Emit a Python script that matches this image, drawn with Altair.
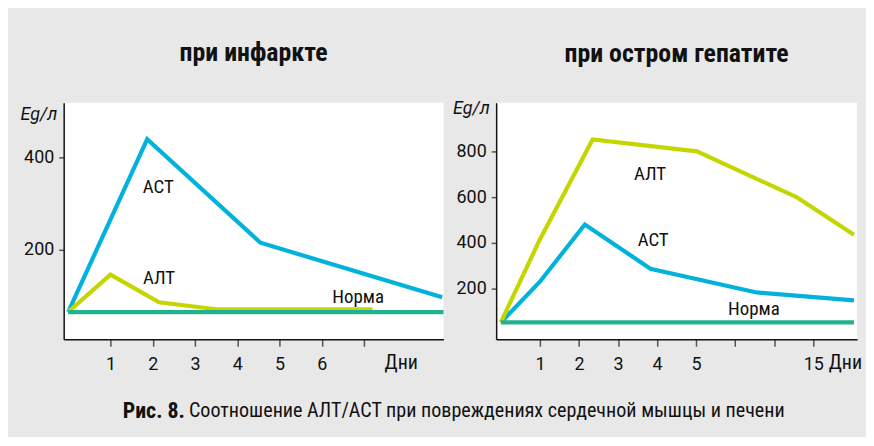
import altair as alt
import pandas as pd

# ---------------- data ----------------
# Left panel: "при инфаркте" (x = days)
inf_ast_x = [0, 1.87, 4.55, 8.85]
inf_ast_y = [65, 439, 215, 97]
inf_alt_x = [0, 1, 2.15, 3.5, 7.2]
inf_alt_y = [65, 146, 86, 71, 71]
inf_norm_x = [0, 8.88]
inf_norm_y = [65, 65]

# Right panel: "при остром гепатите" (x = tick position 1..8, labels below)
hep_alt_x = [0, 1, 2.35, 5.02, 7.57, 9.04]
hep_alt_y = [52, 415, 852, 800, 600, 435]
hep_ast_x = [0, 1, 2.15, 3.83, 6.55, 9.04]
hep_ast_y = [52, 230, 480, 287, 183, 148]
hep_norm_x = [0, 9.04]
hep_norm_y = [52, 52]

inf_ticks = [1, 2, 3, 4, 5, 6, 7]
hep_ticks = [1, 2, 3, 4, 5, 6, 7, 8]
hep_tick_labels = ["1", "2", "3", "4", "5", "", "", "15"]

inf_label_text = ["АСТ", "АЛТ", "Норма"]
inf_label_x = [2.13, 2.15, 6.86]
inf_label_y = [335, 138, 97]
hep_label_text = ["АЛТ", "АСТ", "Норма"]
hep_label_x = [3.82, 3.9, 6.48]
hep_label_y = [700, 413, 109]

series = ["АСТ", "АЛТ", "Норма"]
colors = ["#00b2dc", "#c4d600", "#22b08e"]

COND = "'Roboto Condensed', 'Liberation Sans Narrow', 'DejaVu Sans Condensed', sans-serif"
REG = "Roboto, sans-serif"


def long(parts):
    rows = []
    for name, xs, ys in parts:
        for x, y in zip(xs, ys):
            rows.append({"series": name, "x": x, "y": y})
    return pd.DataFrame(rows)


inf_df = long([("АСТ", inf_ast_x, inf_ast_y), ("АЛТ", inf_alt_x, inf_alt_y),
               ("Норма", inf_norm_x, inf_norm_y)])
hep_df = long([("АСТ", hep_ast_x, hep_ast_y), ("АЛТ", hep_alt_x, hep_alt_y),
               ("Норма", hep_norm_x, hep_norm_y)])
inf_lab = pd.DataFrame({"t": inf_label_text, "x": inf_label_x, "y": inf_label_y})
hep_lab = pd.DataFrame({"t": hep_label_text, "x": hep_label_x, "y": hep_label_y})

color_scale = alt.Scale(domain=series, range=colors)
tick_label_expr = ("datum.value == 8 ? '15' : (datum.value <= 5 ? datum.value : '')")


def panel(df, lab, xdom, ydom, xticks, label_expr, yticks, title,
          dni_x, dni_align, ytitle_y, w, title_offset, extra=None):
    x_axis = alt.Axis(values=xticks, labelExpr=label_expr, title="Дни",
                      titleX=dni_x, titleY=23, titleAlign=dni_align,
                      titleBaseline="middle", titleAngle=0,
                      titleFont=COND, titleFontSize=20, titleFontWeight="normal",
                      titleColor="#111", tickSize=7, labelPadding=9)
    y_axis = alt.Axis(values=yticks, title="Eg/л", titleAngle=0,
                      titleX=-7, titleY=ytitle_y, titleAlign="right",
                      titleBaseline="middle", titleFont=REG, titleFontSize=18,
                      titleFontStyle="italic", titleFontWeight="normal",
                      titleColor="#111", tickSize=5, labelPadding=5)
    x = alt.X("x:Q", scale=alt.Scale(domain=xdom, nice=False, zero=False), axis=x_axis)
    y = alt.Y("y:Q", scale=alt.Scale(domain=ydom, nice=False, zero=False), axis=y_axis)
    lines = alt.Chart(df).mark_line(strokeWidth=4.2, strokeJoin="miter").encode(
        x=x, y=y,
        color=alt.Color("series:N", scale=color_scale, legend=None),
        order=alt.Order("x:Q"),
    )
    texts = alt.Chart(lab).mark_text(font=COND, fontSize=19, color="#111",
                                     baseline="middle", align="center").encode(
        x=alt.X("x:Q"), y=alt.Y("y:Q"), text="t:N")
    layers = [lines, texts]
    if extra is not None:
        layers += extra
    return alt.layer(*layers).properties(
        width=w, height=238,
        title=alt.TitleParams(title, font=COND, fontSize=26, fontWeight="bold",
                              color="#111", anchor="middle", baseline="middle",
                              offset=title_offset),
    )


cap_df = pd.DataFrame({"a": ["Рис. 8."], "b": ["Соотношение АЛТ/АСТ при повреждениях сердечной мышцы и печени"]})
cap_bold = alt.Chart(cap_df).mark_text(font=COND, fontSize=22, fontWeight="bold",
                                       color="#111", align="right",
                                       baseline="middle").encode(
    text="a:N", x=alt.value(122), y=alt.value(310))
cap_rest = alt.Chart(cap_df).mark_text(font=COND, fontSize=20.2, color="#111",
                                       align="left", baseline="middle").encode(
    text="b:N", x=alt.value(126), y=alt.value(310))

left = panel(inf_df, inf_lab, [-0.106, 8.88], [6, 518], inf_ticks,
             "datum.value <= 6 ? datum.value : ''", [200, 400],
             "при инфаркте", 339, "center", 12, 382, 24, extra=[cap_bold, cap_rest])
right = panel(hep_df, hep_lab, [-0.12, 9.12], [-22, 1013], hep_ticks,
              tick_label_expr, [200, 400, 600, 800], "при остром гепатите",
              334, "left", 6, 363, 20)

chart = alt.hconcat(left, right, spacing=53, bounds="flush").properties(
    background="#e8e8e8",
    padding={"left": 12, "top": 31, "right": 3, "bottom": 14},
).configure_view(fill="white", stroke=None).configure_axis(
    grid=False, domainColor="#111", domainWidth=1.5, tickColor="#555",
    tickWidth=1.5, labelFont=REG, labelFontSize=18, labelColor="#111",
)

chart.save("out.html", embed_options={"renderer": "svg", "actions": False})
